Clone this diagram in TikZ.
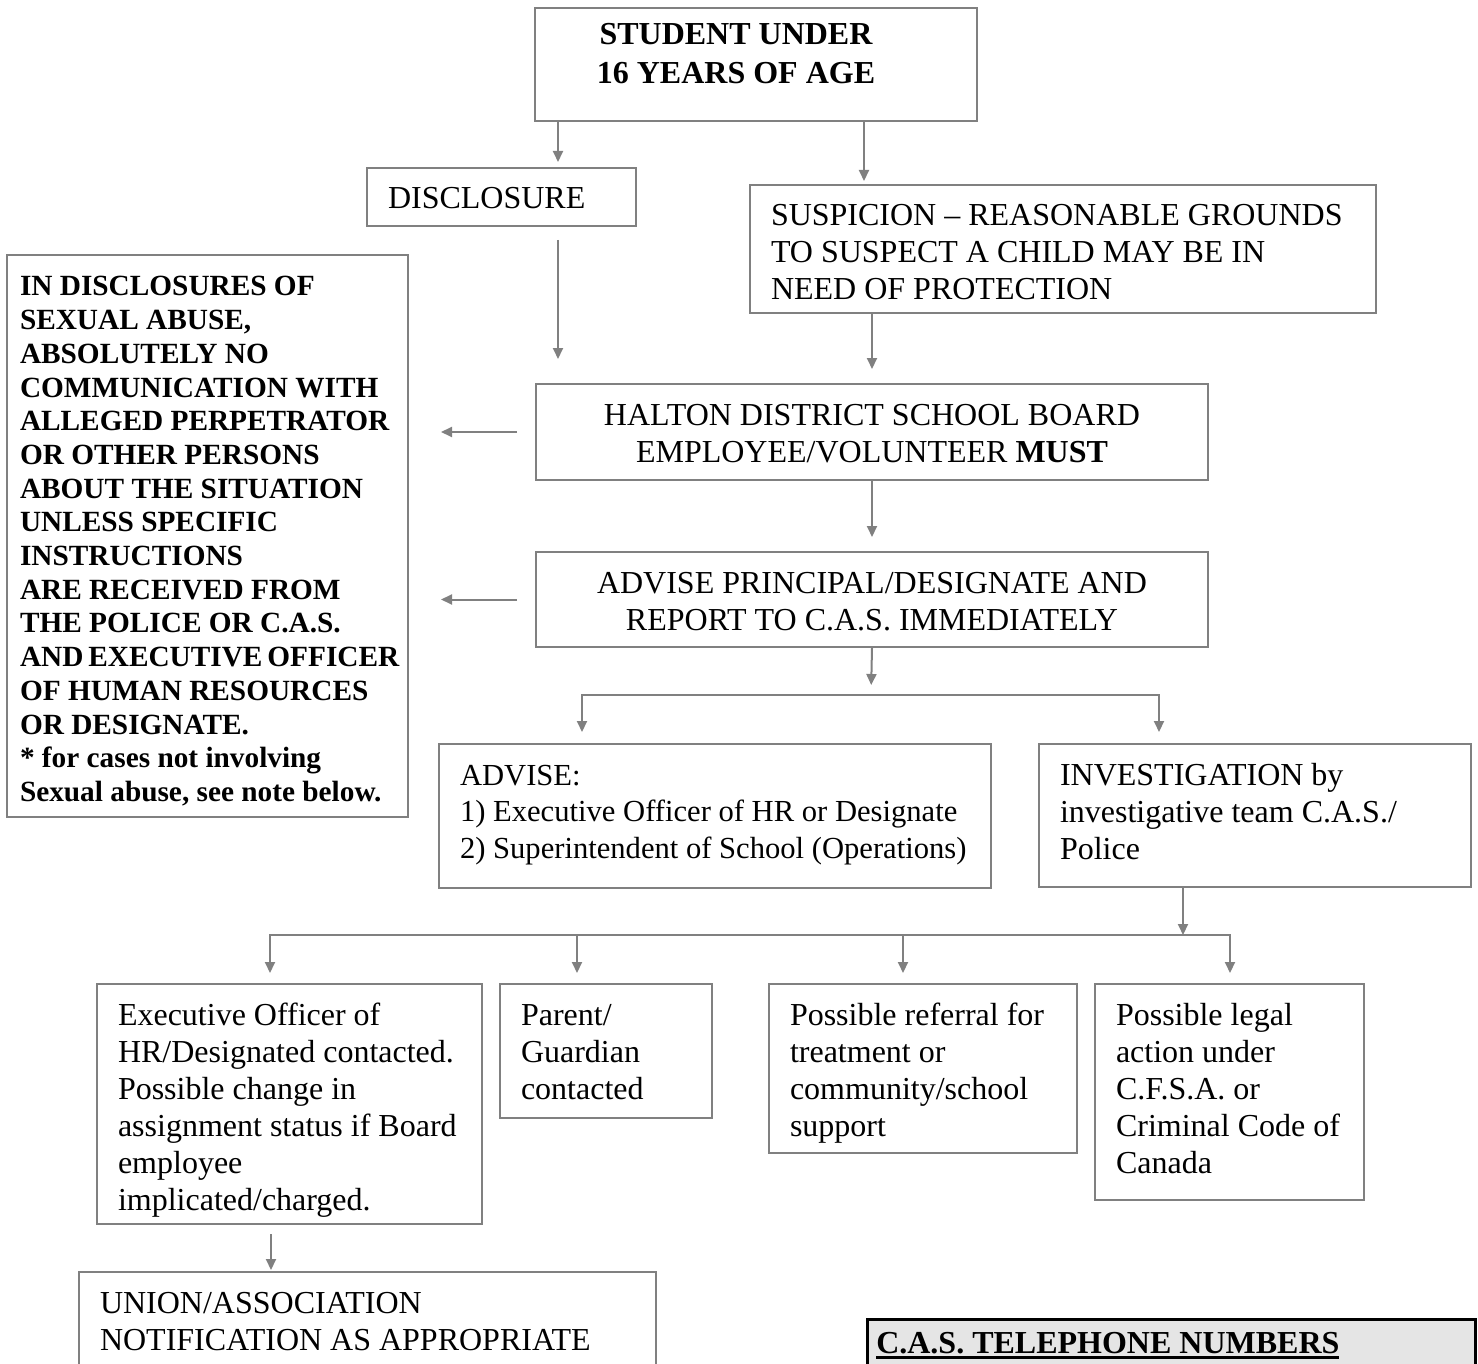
\documentclass[tikz,border=0pt]{standalone}
\usepackage{fontspec}
\setmainfont{Liberation Serif}
\usetikzlibrary{arrows.meta}

\definecolor{linegray}{RGB}{128,128,128}
\definecolor{notegray}{RGB}{229,229,229}
\newcommand{\bodysize}{\fontsize{32pt}{37pt}\selectfont}
\newcommand{\smallbody}{\fontsize{30.6pt}{36.5pt}\selectfont}
\newcommand{\headsize}{\fontsize{32pt}{39pt}\selectfont}
\newcommand{\notesize}{\fontsize{29.3pt}{33.7pt}\selectfont}
\newcommand{\thickul}[1]{\setbox0=\hbox{#1}\rlap{\smash{\rule[-6pt]{\wd0}{3pt}}}\box0}
\hyphenpenalty=10000
\exhyphenpenalty=10000

\tikzset{
  box/.style={draw=linegray, line width=2pt, anchor=north west, align=flush left,
    inner xsep=21pt, inner ysep=0pt, text height=41pt, font=\bodysize},
  midbox/.style={box, align=flush center},
  arr/.style={draw=linegray, line width=2pt, -{Triangle[length=11pt,width=10pt]}}
}

\begin{document}
\begin{tikzpicture}[x=1pt, y=-1pt]
    \useasboundingbox (0,0) rectangle (1478,1364);
    \node[box, minimum width=442pt, minimum height=113pt, text height=, text depth=] (student) at (534,7) {};
    \node[font=\headsize\bfseries, align=center, inner sep=0pt] (studenttxt) at (736,54)
      {STUDENT UNDER\\16 YEARS OF AGE};
    \node[box, minimum width=269pt, text width=227pt, text depth=17pt] (disclosure) at (366,167)
      {DISCLOSURE};
    \node[box, minimum width=626pt, text width=584pt, text depth=87pt] (suspicion) at (749,184)
      {SUSPICION – REASONABLE GROUNDS\\TO SUSPECT A CHILD MAY BE IN\\NEED OF PROTECTION};
    \node[box, font=\notesize\bfseries, inner xsep=13pt, minimum width=401pt, text width=375pt,
      text depth=521pt] (leftbox) at (6,254)
      {IN DISCLOSURES OF\\SEXUAL ABUSE,\\ABSOLUTELY NO\\COMMUNICATION WITH\\ALLEGED PERPETRATOR\\
       OR OTHER PERSONS\\ABOUT THE SITUATION\\UNLESS SPECIFIC\\INSTRUCTIONS\\ARE RECEIVED FROM\\
       THE POLICE OR C.A.S.\\AND~EXECUTIVE~OFFICER\\OF HUMAN RESOURCES\\OR DESIGNATE.\\{}
       * for cases not involving\\Sexual~abuse,~see~note~below.};
    \node[midbox, minimum width=672pt, text width=630pt, text depth=55pt] (halton) at (535,383)
      {HALTON DISTRICT SCHOOL BOARD\\EMPLOYEE/VOLUNTEER \textbf{MUST}};
    \node[midbox, minimum width=672pt, text width=630pt, text depth=54pt] (report) at (535,551)
      {ADVISE PRINCIPAL/DESIGNATE AND\\REPORT TO C.A.S. IMMEDIATELY};
    \node[box, font=\smallbody, minimum width=552pt, text width=510pt, text depth=103pt] (advise) at (438,743)
      {ADVISE:\\1) Executive Officer of HR or Designate\\2) Superintendent of School (Operations)};
    \node[box, minimum width=432pt, text width=390pt, text depth=102pt] (investigation) at (1038,743)
      {INVESTIGATION by\\investigative team C.A.S./\\Police};
    \node[box, minimum width=385pt, text width=343pt, text depth=199pt] (exec) at (96,983)
      {Executive Officer of\\HR/Designated contacted.\\Possible change in\\assignment status if Board\\
       employee\\implicated/charged.};
    \node[box, minimum width=212pt, text width=170pt, text depth=93pt] (parent) at (499,983)
      {Parent/\\Guardian\\contacted};
    \node[box, minimum width=308pt, text width=266pt, text depth=128pt] (referral) at (768,983)
      {Possible referral for\\treatment or\\community/school\\support};
    \node[box, minimum width=269pt, text width=227pt, text depth=175pt] (legal) at (1094,983)
      {Possible legal\\action under\\C.F.S.A. or\\Criminal Code of\\Canada};
    \node[box, minimum width=577pt, text width=535pt, text depth=59pt] (union) at (78,1271)
      {UNION/ASSOCIATION\\NOTIFICATION AS APPROPRIATE};
    \node[box, draw=black, fill=notegray, line width=2.5pt, font=\bodysize\bfseries, inner xsep=9pt,
      minimum width=608pt, text width=590pt, text height=34pt, text depth=14pt] (cas) at (866,1318)
      {\thickul{C.A.S. TELEPHONE NUMBERS}};
    \draw[arr, shorten >=5pt] (student.south -| 558,0) -- (disclosure.north -| 558,0);
    \draw[arr, shorten >=3pt] (student.south -| 864,0) -- (suspicion.north -| 864,0);
    \draw[arr, shorten <=13pt, shorten >=24pt] (disclosure.south -| 558,0) -- (halton.north -| 558,0);
    \draw[arr, shorten >=14pt] (suspicion.south -| halton.north) -- (halton.north);
    \draw[arr, shorten <=18pt, shorten >=32pt] (halton.west) -- (halton.west -| leftbox.east);
    \draw[arr, shorten <=18pt, shorten >=32pt] (report.west) -- (report.west -| leftbox.east);
    \draw[arr, shorten >=14pt] (halton.south) -- (report.north);
    \coordinate (fork1) at (871,695);
    \draw[arr, shorten >=10pt] (report.south) -- (fork1);
    \draw[arr, shorten >=11pt] (fork1) -| (advise.north -| 582,0);
    \draw[arr, shorten >=11pt] (fork1) -| (investigation.north -| 1159,0);
    \coordinate (fork2) at (1183,935);
    \draw[arr] (investigation.south -| fork2) -- (fork2);
    \draw[arr, shorten >=10pt] (fork2) -| (exec.north -| 270,0);
    \draw[arr, shorten >=10pt] (fork2) -| (parent.north -| 577,0);
    \draw[arr, shorten >=10pt] (fork2) -| (referral.north -| 903,0);
    \draw[arr, shorten >=10pt] (fork2) -| (legal.north -| 1230,0);
    \draw[arr, shorten <=9pt, shorten >=1pt] (exec.south -| 271,0) -- (union.north -| 271,0);
\end{tikzpicture}
\end{document}
